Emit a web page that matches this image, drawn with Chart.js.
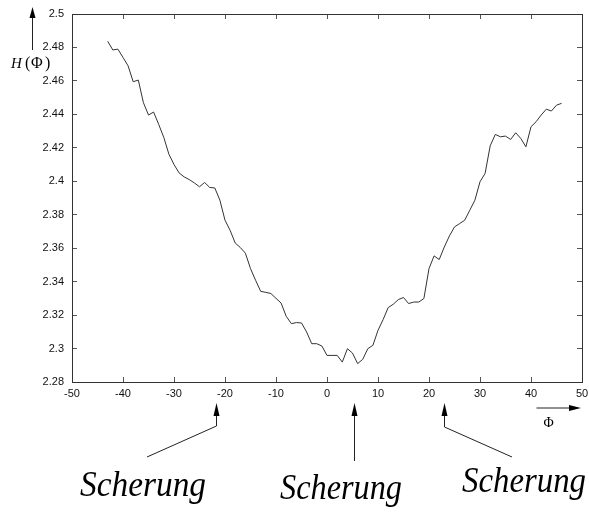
<!DOCTYPE html>
<html>
<head>
<meta charset="utf-8">
<script src="https://cdn.jsdelivr.net/npm/chart.js@4"></script>
<style>
  body { margin: 0; background: #fff; }
  #wrap { width: 589px; height: 525px; }
</style>
</head>
<body>
<div id="wrap"><canvas id="chart" width="589" height="525"></canvas></div>
<script>
// Phi values (x) and H(Phi) readings
const phi = [-43, -42, -41, -40, -39, -38, -37, -36, -35, -34, -33, -32, -31, -30, -29, -28,
  -27, -26, -25, -24, -23, -22, -21, -20, -19, -18, -17, -16, -15, -14, -13, -12, -11, -10,
  -9, -8, -7, -6, -5, -4, -3, -2, -1, 0, 1, 2, 3, 4, 5, 6, 7, 8, 9, 10, 11, 12, 13, 14, 15,
  16, 17, 18, 19, 20, 21, 22, 23, 24, 25, 26, 27, 28, 29, 30, 31, 32, 33, 34, 35, 36, 37,
  38, 39, 40, 41, 42, 43, 44, 45, 46];
const hValues = [2.4837, 2.4785, 2.479, 2.474, 2.469, 2.4595, 2.4605, 2.447, 2.4396, 2.4414,
  2.434, 2.4262, 2.4162, 2.410, 2.405, 2.4026, 2.401, 2.399, 2.3967, 2.3993, 2.3963, 2.396,
  2.3887, 2.3767, 2.3707, 2.3631, 2.3604, 2.357, 2.3478, 2.3408, 2.3342, 2.3336, 2.3329,
  2.330, 2.3272, 2.3193, 2.3149, 2.3155, 2.3153, 2.3099, 2.3029, 2.3029, 2.3015, 2.2959,
  2.2959, 2.2959, 2.2919, 2.2999, 2.2973, 2.291, 2.2935, 2.2999, 2.3019, 2.3109, 2.3173,
  2.3245, 2.3265, 2.3293, 2.3305, 2.3269, 2.3278, 2.3278, 2.3299, 2.3478, 2.3554, 2.3532,
  2.3607, 2.3673, 2.3727, 2.3747, 2.3767, 2.3827, 2.3887, 2.3997, 2.4047, 2.4212, 2.428,
  2.4266, 2.427, 2.425, 2.429, 2.4256, 2.4206, 2.4326, 2.4356, 2.4396, 2.4431, 2.442,
  2.4455, 2.4466];

// axis ranges
const xMin = -50, xMax = 50, xStep = 10;
const yMin = 2.28, yMax = 2.5, yStep = 0.02;

// where the "Scherung" arrows point (Phi values)
const shearPhi = [-21.7, 5.2, 22.9];
const shearLabel = 'Scherung';

const points = phi.map((p, i) => ({ x: p, y: hValues[i] }));

const tickFont = { family: 'Liberation Sans', size: 11 };
const frameGrid = { display: true, drawOnChartArea: false, drawTicks: true, tickLength: -5, color: '#555' };
const frameBorder = { display: true, color: '#333', width: 1 };

function arrowUp(ctx, x, tipY, baseY, endY) {
  ctx.beginPath();
  ctx.moveTo(x, tipY);
  ctx.lineTo(x - 3, baseY);
  ctx.lineTo(x + 3, baseY);
  ctx.closePath();
  ctx.fill();
  ctx.beginPath();
  ctx.moveTo(x, baseY);
  ctx.lineTo(x, endY);
  ctx.stroke();
}

// arrows and hand-written style labels round the axes
const annotate = {
  id: 'annotate',
  afterDraw(chart) {
    const ctx = chart.ctx;
    const xs = chart.scales.x;
    ctx.save();
    ctx.strokeStyle = '#222';
    ctx.fillStyle = '#000';
    ctx.lineWidth = 1;

    // H(Phi) axis label with arrow
    arrowUp(ctx, 32.5, 7, 18, 50);
    ctx.textBaseline = 'alphabetic';
    ctx.textAlign = 'left';
    ctx.font = 'italic 15px "Liberation Serif"';
    ctx.fillText('H', 11, 68);
    ctx.font = '16px "Liberation Serif"';
    ctx.fillText('(', 25, 68);
    ctx.fillText('Φ', 31, 68);
    ctx.fillText(')', 45, 68);

    // Phi axis arrow
    ctx.beginPath();
    ctx.moveTo(536.5, 408);
    ctx.lineTo(570, 408);
    ctx.stroke();
    ctx.beginPath();
    ctx.moveTo(581, 408);
    ctx.lineTo(569, 405);
    ctx.lineTo(569, 411);
    ctx.closePath();
    ctx.fill();
    ctx.textAlign = 'center';
    ctx.font = '14px "Liberation Serif"';
    ctx.fillText('Φ', 548.5, 427);

    // shear arrows
    const ax = shearPhi.map(v => Math.round(xs.getPixelForValue(v)) + 0.5);
    arrowUp(ctx, ax[0], 403, 416, 426);
    ctx.beginPath();
    ctx.moveTo(ax[0], 426);
    ctx.lineTo(147, 457);
    ctx.stroke();

    arrowUp(ctx, ax[1], 403, 416, 461);

    arrowUp(ctx, ax[2], 403, 416, 427);
    ctx.beginPath();
    ctx.moveTo(ax[2], 427);
    ctx.lineTo(512, 457);
    ctx.stroke();

    ctx.textAlign = 'left';
    ctx.font = 'italic 36px "Liberation Serif"';
    ctx.fillText(shearLabel, 80, 496, 126);
    ctx.fillText(shearLabel, 280, 499, 122);
    ctx.fillText(shearLabel, 462, 492, 124);
    ctx.restore();
  }
};

const ctx = document.getElementById('chart').getContext('2d');
const chart = new Chart(ctx, {
  type: 'line',
  data: {
    datasets: [{
      label: 'H(Φ)',
      data: points,
      borderColor: '#333',
      borderWidth: 1,
      pointRadius: 0,
      tension: 0,
      fill: false
    }]
  },
  options: {
    responsive: false,
    animation: false,
    layout: { padding: 0 },
    plugins: {
      legend: { display: false },
      tooltip: { enabled: false }
    },
    scales: {
      x: {
        type: 'linear',
        position: 'bottom',
        min: xMin, max: xMax,
        grid: frameGrid,
        border: frameBorder,
        ticks: {
          stepSize: xStep,
          font: tickFont,
          color: '#111',
          padding: 10,
          maxRotation: 0,
          callback: v => String(v)
        },
        afterFit: s => { s.height = 143; s.paddingLeft = 0; s.paddingRight = 0; }
      },
      y: {
        type: 'linear',
        position: 'left',
        min: yMin, max: yMax,
        grid: frameGrid,
        border: frameBorder,
        ticks: {
          stepSize: yStep,
          font: tickFont,
          color: '#111',
          padding: 13,
          callback: v => String(+v.toFixed(2))
        },
        afterFit: s => { s.width = 72; s.paddingTop = 0; s.paddingBottom = 0; }
      },
      x2: {
        type: 'linear',
        axis: 'x',
        position: 'top',
        min: xMin, max: xMax,
        grid: frameGrid,
        border: frameBorder,
        ticks: { display: false, stepSize: xStep },
        afterFit: s => { s.height = 14; }
      },
      y2: {
        type: 'linear',
        axis: 'y',
        position: 'right',
        min: yMin, max: yMax,
        grid: frameGrid,
        border: frameBorder,
        ticks: { display: false, stepSize: yStep },
        afterFit: s => { s.width = 7; }
      }
    }
  },
  plugins: [annotate]
});
</script>
</body>
</html>
